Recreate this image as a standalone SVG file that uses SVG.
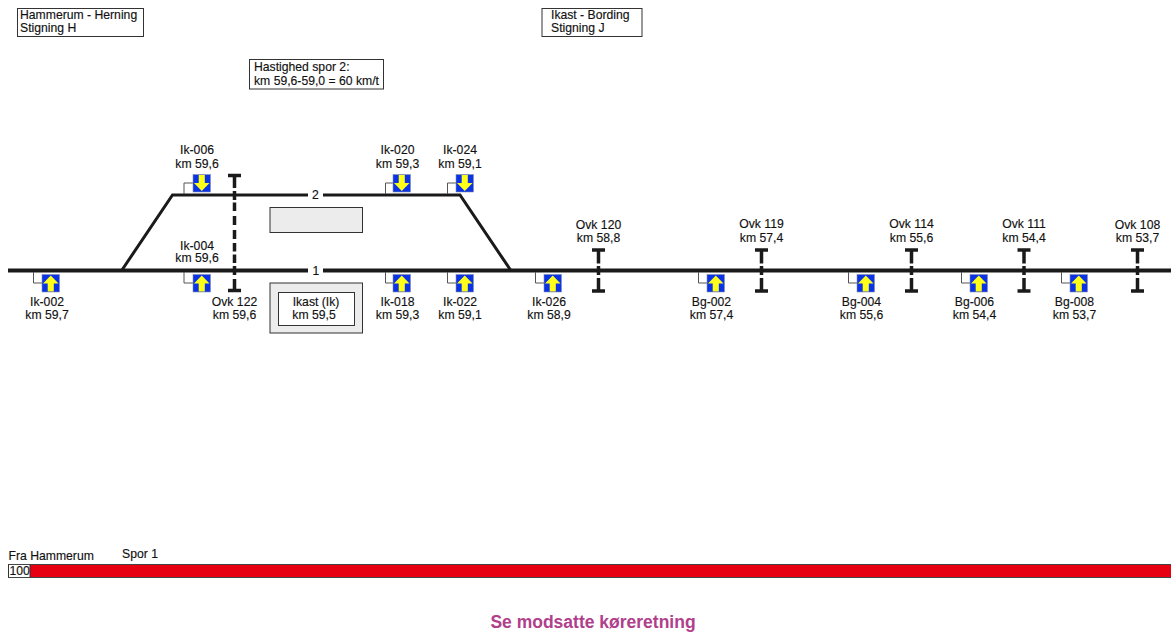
<svg xmlns="http://www.w3.org/2000/svg" width="1171" height="635" viewBox="0 0 1171 635">
<style>
text{font-family:"Liberation Sans",Arial,sans-serif;font-size:12.2px;fill:#111;stroke:#111;stroke-width:.15}
.m{text-anchor:middle}
.t1{stroke:#1a1a1a;stroke-width:4;fill:none}
.t2{stroke:#1a1a1a;stroke-width:3;fill:none}
.stem{stroke:#555;stroke-width:1;fill:none}
.box{fill:#fff;stroke:#333;stroke-width:1}
.cross{stroke:#1a1a1a;stroke-width:3.500;fill:none}
.plat{fill:#ececec;stroke:#333;stroke-width:1}
</style>
<defs>
<g id="up"><rect x="0" y="0" width="17.500" height="17.500" fill="#0a32e6" stroke="#8a8fa8" stroke-width=".6"/><path d="M8.750 1 16.500 9H11.800V17H5.700V9H1Z" fill="#ffff1a"/></g>
<g id="down"><rect x="0" y="0" width="17.500" height="17.500" fill="#0a32e6" stroke="#8a8fa8" stroke-width=".6"/><path d="M8.750 16.500 16.500 8.500H11.800V.5H5.700V8.500H1Z" fill="#ffff1a"/></g>
<g id="ovk"><path class="cross" d="M-6.500 -20.500H6.500M0 -21V-7M0 -4.500V4.500M0 7.500V21M-6.500 20.500H6.500"/></g>
</defs>
<g id="connectors">
<path class="t1" d="M8 270.500H308M323 270.500H1171"/>
<path class="t2" d="M122 270 172.500 195H308M323 195H460L510.500 270"/>
</g>
<g id="label-track-1"><text class="m" x="316" y="274.500">1</text></g>
<g id="label-track-2"><text class="m" x="315.500" y="199">2</text></g>
<g id="header-hammerum"><rect class="box" x="17.500" y="8.500" width="126" height="28"/><text x="20" y="19">Hammerum - Herning</text><text x="20" y="32">Stigning H</text></g>
<g id="header-ikast"><rect class="box" x="542" y="8.500" width="100" height="28"/><text x="551" y="19">Ikast - Bording</text><text x="551" y="32">Stigning J</text></g>
<g id="speed-note"><rect class="box" x="249.500" y="59.500" width="134" height="29.500"/><text x="254" y="71">Hastighed spor 2:</text><text x="254" y="85">km 59,6-59,0 = 60 km/t</text></g>
<g id="platform-2"><rect class="plat" x="270" y="207.500" width="92.500" height="25"/></g>
<g id="station-ikast"><rect class="plat" x="270" y="283" width="92.500" height="50"/><rect class="box" x="278.500" y="292.500" width="76" height="33"/><text class="m" x="316" y="306">Ikast (Ik)</text><text class="m" x="314" y="319">km 59,5</text></g>

<g id="ik-002"><path class="stem" d="M33.500 272V283H42"/><use href="#up" x="42" y="274.500"/><text class="m" x="47" y="306">Ik-002</text><text class="m" x="47" y="319">km 59,7</text></g>
<g id="ik-004"><path class="stem" d="M184 272V283H193"/><use href="#up" x="193" y="274.500"/><text class="m" x="197" y="250">Ik-004</text><text class="m" x="197" y="262">km 59,6</text></g>
<g id="ik-006"><path class="stem" d="M184 194V183H193"/><use href="#down" x="193" y="174.500"/><text class="m" x="197" y="154">Ik-006</text><text class="m" x="197" y="168">km 59,6</text></g>
<g id="ik-018"><path class="stem" d="M385.500 272V283H393"/><use href="#up" x="393" y="274.500"/><text class="m" x="397.500" y="306">Ik-018</text><text class="m" x="397.500" y="319">km 59,3</text></g>
<g id="ik-020"><path class="stem" d="M385.500 194V183H393"/><use href="#down" x="393" y="174.500"/><text class="m" x="397.500" y="154">Ik-020</text><text class="m" x="397.500" y="168">km 59,3</text></g>
<g id="ik-022"><path class="stem" d="M447.500 272V283H456"/><use href="#up" x="456" y="274.500"/><text class="m" x="460" y="306">Ik-022</text><text class="m" x="460" y="319">km 59,1</text></g>
<g id="ik-024"><path class="stem" d="M447.500 194V183H456"/><use href="#down" x="456" y="174.500"/><text class="m" x="460" y="154">Ik-024</text><text class="m" x="460" y="168">km 59,1</text></g>
<g id="ik-026"><path class="stem" d="M535.500 272V283H544"/><use href="#up" x="544" y="274.500"/><text class="m" x="549" y="306">Ik-026</text><text class="m" x="549" y="319">km 58,9</text></g>
<g id="bg-002"><path class="stem" d="M698.500 272V283H707"/><use href="#up" x="707" y="274.500"/><text class="m" x="711.500" y="306">Bg-002</text><text class="m" x="711.500" y="319">km 57,4</text></g>
<g id="bg-004"><path class="stem" d="M848.500 272V283H857"/><use href="#up" x="857" y="274.500"/><text class="m" x="861.500" y="306">Bg-004</text><text class="m" x="861.500" y="319">km 55,6</text></g>
<g id="bg-006"><path class="stem" d="M961.500 272V283H970"/><use href="#up" x="970" y="274.500"/><text class="m" x="974.500" y="306">Bg-006</text><text class="m" x="974.500" y="319">km 54,4</text></g>
<g id="bg-008"><path class="stem" d="M1061.500 272V283H1070"/><use href="#up" x="1070" y="274.500"/><text class="m" x="1074.500" y="306">Bg-008</text><text class="m" x="1074.500" y="319">km 53,7</text></g>

<g id="ovk-122"><path class="cross" d="M228 175.500H241M234.500 175V188M234.500 191V200M234.500 202.500V211M234.500 216V225M234.500 230V239M234.500 243V251.500M234.500 254.500V263M234.500 266V275M234.500 279V291M228 290.500H241"/><text class="m" x="234.500" y="306">Ovk 122</text><text class="m" x="234.500" y="319">km 59,6</text></g>
<g id="ovk-120"><use href="#ovk" x="598.500" y="270.500"/><text class="m" x="598.500" y="229">Ovk 120</text><text class="m" x="598.500" y="242">km 58,8</text></g>
<g id="ovk-119"><use href="#ovk" x="761.500" y="270.500"/><text class="m" x="761.500" y="228">Ovk 119</text><text class="m" x="761.500" y="242">km 57,4</text></g>
<g id="ovk-114"><use href="#ovk" x="911.500" y="270.500"/><text class="m" x="911.500" y="228">Ovk 114</text><text class="m" x="911.500" y="242">km 55,6</text></g>
<g id="ovk-111"><use href="#ovk" x="1024" y="270.500"/><text class="m" x="1024" y="228">Ovk 111</text><text class="m" x="1024" y="242">km 54,4</text></g>
<g id="ovk-108"><use href="#ovk" x="1137.500" y="270.500"/><text class="m" x="1137.500" y="229">Ovk 108</text><text class="m" x="1137.500" y="242">km 53,7</text></g>

<g id="speed-bar"><text x="8.500" y="560">Fra Hammerum</text><text x="122" y="558">Spor 1</text><rect x="30" y="564.500" width="1141" height="13" fill="#e60012"/><rect class="box" x="8.500" y="564.500" width="21.500" height="13"/><path d="M8 564.500H1171M8 577.500H1171" stroke="#444" stroke-width="1" fill="none"/><text x="9.500" y="575">100</text></g>
<g id="footer"><text class="m" x="593" y="628" style="font-size:17.500px;font-weight:bold;fill:#b0408c;stroke:none">Se modsatte køreretning</text></g>
</svg>
